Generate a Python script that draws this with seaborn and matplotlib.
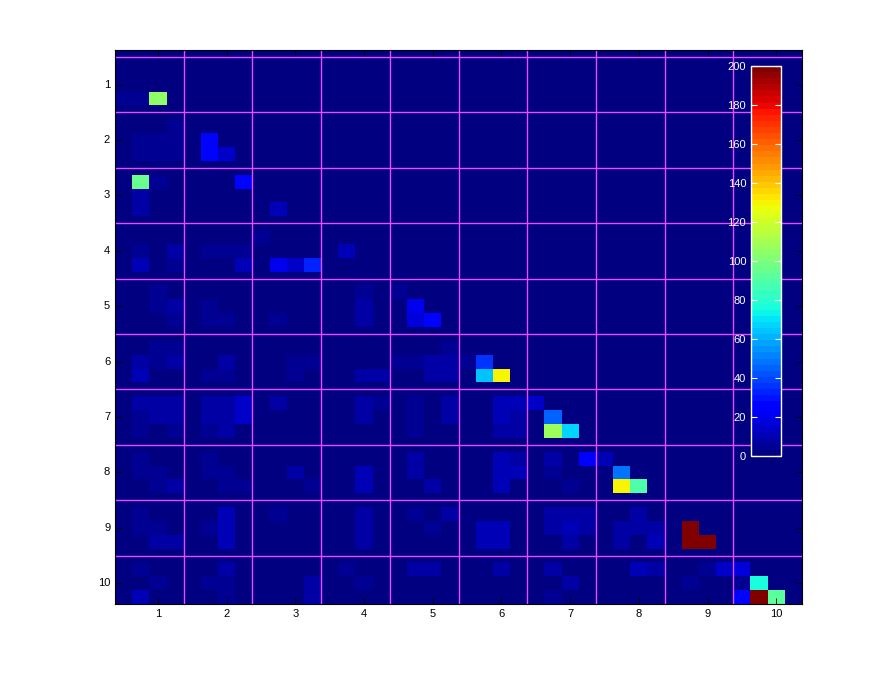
import numpy as np
import matplotlib
matplotlib.use("Agg")
import matplotlib.pyplot as plt
import seaborn as sns

# --- data: 40x40 matrix shown as 10x10 blocks (4x4 cells each) ---
n_cells = 40
block_labels = [str(i) for i in range(1, 11)]

# bright cells near the diagonal
peak_rows = [3, 6, 7, 7, 9, 9, 15, 18, 19, 19, 22, 23, 23, 26, 27, 27, 29, 30, 31, 31, 34, 35, 35, 39, 38, 39, 39]
peak_cols = [2, 5, 5, 6, 1, 7, 11, 17, 17, 18, 21, 21, 22, 25, 25, 26, 27, 29, 29, 30, 33, 33, 34, 36, 37, 37, 38]
peak_vals = [105, 25, 28, 14, 95, 25, 33, 20, 18, 27, 37, 64, 130, 46, 108, 68, 22, 48, 130, 88, 205, 205, 205, 25, 78, 205, 93]

# faint background cells (lower-left part)
faint_rows = [3, 3, 5, 6, 7, 6, 6, 7, 7,
              9, 10, 11, 11,
              13, 14, 15, 14, 15, 14, 14, 14, 15, 15, 15, 14,
              17, 18, 18, 19, 18, 19, 19, 19, 17, 18, 19, 17,
              21, 21, 22, 22, 22, 23, 22, 23, 23, 22, 22, 23, 23, 23, 22, 22, 22, 22, 23, 23, 21, 22,
              25, 26, 27, 25, 26, 25, 26, 27, 25, 26, 27, 25, 26, 27, 25, 26, 25, 25, 26, 25, 25, 26, 27, 25, 26, 25, 26, 27, 25, 26, 27, 25,
              29, 30, 31, 30, 31, 29, 30, 30, 31, 31, 30, 31, 30, 31, 29, 30, 31, 29, 30, 31, 29, 30, 29, 30, 31, 29,
              33, 34, 35, 35, 34, 33, 34, 35, 34, 33, 33, 34, 35, 33, 34, 33, 34, 35, 35, 34, 33, 34, 34, 35, 33, 33, 34, 35, 34, 33, 34, 34, 35,
              39, 37, 38, 37, 38, 38, 39, 38, 39, 37, 38, 37, 37, 37, 37, 38, 39, 37, 37, 38, 37, 37, 37, 38]
faint_cols = [0, 1, 3, 3, 3, 1, 2, 1, 2,
              2, 1, 1, 9,
              8, 1, 1, 3, 3, 5, 6, 7, 7, 9, 10, 13,
              2, 2, 3, 3, 5, 5, 6, 9, 14, 14, 14, 16,
              2, 3, 2, 3, 1, 1, 6, 5, 6, 10, 11, 10, 14, 15, 16, 17, 18, 19, 18, 19, 19, 20,
              1, 1, 1, 2, 2, 3, 3, 3, 5, 5, 5, 6, 6, 6, 7, 7, 9, 14, 14, 15, 17, 17, 17, 19, 19, 22, 22, 22, 23, 23, 23, 24,
              1, 1, 2, 2, 3, 5, 5, 6, 6, 7, 10, 11, 14, 14, 17, 17, 18, 22, 22, 22, 23, 23, 25, 25, 26, 28,
              1, 1, 2, 3, 2, 6, 6, 6, 5, 9, 14, 14, 14, 17, 18, 19, 21, 21, 22, 22, 25, 25, 26, 26, 26, 27, 27, 29, 29, 30, 30, 31, 31,
              1, 1, 2, 6, 5, 6, 6, 11, 11, 13, 14, 17, 18, 22, 25, 26, 25, 30, 31, 33, 34, 35, 36, 36]
faint_vals = [5, 6, 5, 6, 6, 5, 6, 5, 4,
              6, 9, 9, 10,
              6, 5, 12, 8, 6, 4, 4, 5, 10, 20, 14, 12,
              5, 6, 7, 6, 5, 6, 5, 4, 6, 8, 8, 6,
              6, 6, 5, 8, 7, 10, 9, 5, 5, 6, 6, 5, 8, 7, 5, 5, 9, 9, 8, 8, 5, 6,
              7, 6, 6, 7, 8, 9, 9, 6, 7, 8, 6, 8, 9, 7, 14, 13, 7, 8, 8, 5, 6, 6, 6, 9, 9, 10, 10, 9, 10, 9, 8, 14,
              5, 5, 5, 5, 8, 6, 6, 6, 5, 5, 7, 5, 12, 12, 7, 7, 7, 11, 11, 10, 9, 10, 8, 6, 6, 12,
              6, 6, 9, 9, 6, 11, 11, 11, 5, 5, 8, 8, 8, 6, 6, 9, 10, 10, 12, 10, 9, 9, 11, 9, 8, 8, 8, 7, 7, 9, 9, 9, 12,
              10, 5, 5, 9, 6, 6, 5, 8, 8, 6, 6, 9, 8, 9, 7, 7, 6, 10, 8, 5, 6, 14, 18, 6]

matrix = np.zeros((n_cells, n_cells))
matrix[faint_rows, faint_cols] = faint_vals
matrix[peak_rows, peak_cols] = peak_vals

# --- figure ---
plt.rcParams['font.family'] = ['Liberation Sans', 'DejaVu Sans']
fig = plt.figure(figsize=(8.86, 6.77), dpi=100)
ax = fig.add_axes([115 / 886, 1 - 604 / 677, 687 / 886, 554 / 677])

jet = plt.get_cmap('jet', 64)
sns.heatmap(matrix, cmap=jet, vmin=0, vmax=200, cbar=False, ax=ax, linewidths=0)

# magenta block grid
for x in range(4, n_cells, 4):
    ax.axvline(x, color='#e94cff', lw=1.0)
for y in np.arange(0.5, n_cells, 4):
    ax.axhline(y, color='#e94cff', lw=1.0)

ticks = np.arange(2.5, n_cells, 4)
ax.set_xticks(ticks)
ax.set_xticklabels(block_labels, rotation=0)
ax.set_yticks(ticks)
ax.set_yticklabels(block_labels, rotation=0)
ax.tick_params(direction='in', length=4, top=True, right=True, labelsize=8, color='black', width=0.6)
for sp in ax.spines.values():
    sp.set_visible(True)
    sp.set_color('black')
    sp.set_linewidth(0.8)

# colorbar inside the axes (east)
cax = fig.add_axes([751 / 886, 1 - 456 / 677, 30 / 886, 390 / 677])
cb = fig.colorbar(ax.collections[0], cax=cax)
cb.set_ticks(range(0, 201, 20))
cax.tick_params(axis='y', direction='in', left=True, right=True, labelleft=True, labelright=False,
                colors='white', length=4, labelsize=8, width=0.8)
cb.outline.set_edgecolor('white')
cb.outline.set_linewidth(1.0)

fig.savefig('out.png', dpi=100)
